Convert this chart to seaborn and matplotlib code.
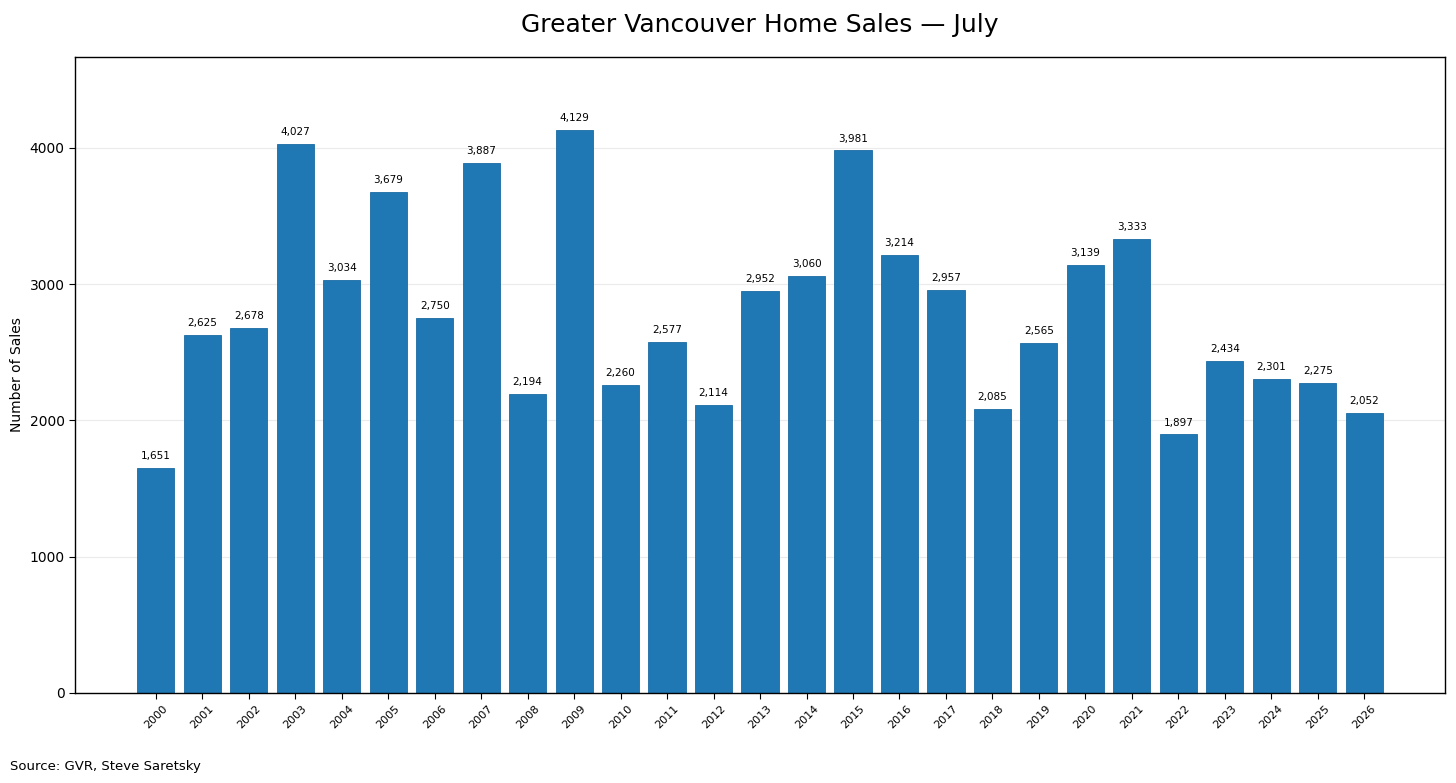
import matplotlib
matplotlib.use("Agg")
import matplotlib.pyplot as plt
import seaborn as sns
import pandas as pd

years = [str(y) for y in range(2000, 2027)]
sales = [1651, 2625, 2678, 4027, 3034, 3679, 2750, 3887, 2194, 4129,
         2260, 2577, 2114, 2952, 3060, 3981, 3214, 2957, 2085, 2565,
         3139, 3333, 1897, 2434, 2301, 2275, 2052]

df = pd.DataFrame({"year": years, "sales": sales})

sns.set_style("white")
plt.rcParams['font.family'] = ['DejaVu Sans']
plt.rcParams['text.color'] = 'black'
plt.rcParams['axes.labelcolor'] = 'black'
plt.rcParams['xtick.color'] = 'black'
plt.rcParams['ytick.color'] = 'black'

fig = plt.figure(figsize=(14.56, 7.83), dpi=100)
ax = fig.add_axes([0.0515, 0.115, 0.941, 0.812])

sns.barplot(data=df, x="year", y="sales", color="#1f77b4", saturation=1,
            width=0.8, edgecolor="#1a6aa3", linewidth=0.6, ax=ax)

for i, v in enumerate(sales):
    ax.annotate(f"{v:,}", (i, v), xytext=(0, 5), textcoords="offset points",
                ha="center", va="bottom", fontsize=7.5, color="black")

n = len(years)
pad = 0.05 * (n - 1 + 0.8)
ax.set_xlim(-0.4 - pad, n - 1 + 0.4 + pad)
ax.set_ylim(0, max(sales) * 1.13)
ax.set_yticks([0, 1000, 2000, 3000, 4000])
ax.yaxis.grid(True, color="#ebebeb", linewidth=0.8)
ax.set_axisbelow(True)

for s in ax.spines.values():
    s.set_visible(True)
    s.set_color("black")
    s.set_linewidth(1.0)

ax.tick_params(axis="x", labelsize=8, rotation=45, bottom=True, length=4)
ax.tick_params(axis="y", labelsize=10, left=True, length=4)
ax.set_xlabel("")
ax.set_ylabel("Number of Sales", fontsize=10)
ax.set_title("Greater Vancouver Home Sales — July", fontsize=18, pad=18,
             color="black")

fig.text(0.007, 0.017, "Source: GVR, Steve Saretsky", fontsize=9.5)

fig.savefig("out.png", dpi=100)
